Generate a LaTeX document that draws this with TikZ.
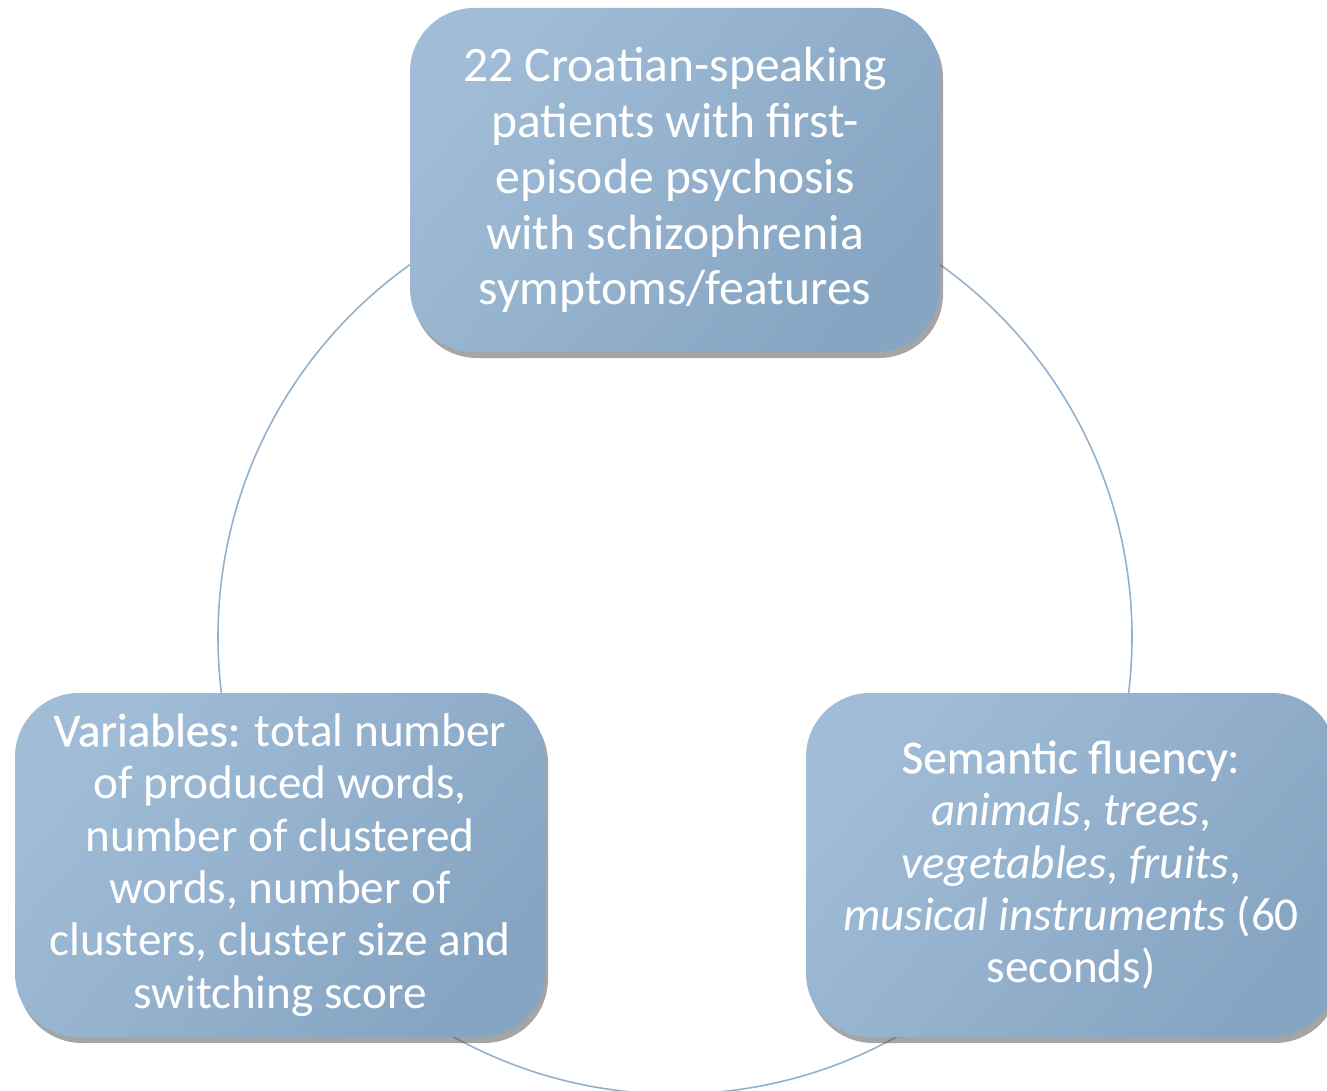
\documentclass[tikz,border=0pt]{standalone}
\usepackage{fontspec}
\setmainfont{Carlito}
\newfontface\strongface{Carlito}[FakeBold=0.6]
\usetikzlibrary{shadows}
\definecolor{boxlight}{HTML}{A0BCD7}
\definecolor{boxdark}{HTML}{86A5C2}
\definecolor{ringline}{HTML}{93B1CD}
\tikzset{
	stagebox/.style={rounded corners=32pt, minimum width=265pt, minimum height=172pt,
		left color=boxlight, right color=boxdark, shading angle=50,
		text=white, align=center, font=\fontsize{23.6}{26.2}\selectfont,
		drop shadow={shadow xshift=1.5pt, shadow yshift=-3pt, opacity=0.5, fill=black!70}},
	bigstage/.style={stagebox, font=\fontsize{24.8}{27.9}\selectfont},
	ring/.style={draw=ringline, line width=0.8pt},
}

\begin{document}
\begin{tikzpicture}[x=0.5pt, y=-0.5pt]
		%%%%% FRAME %%%%%
		\useasboundingbox (0, 0) rectangle (1327, 1091);
		\clip (0, 0) rectangle (1327, 1091);
		
		%%%%% RING %%%%%
		\coordinate (hub) at (675, 637);
		\draw[ring] (hub) circle [radius=228.5pt];
		
		%%%%% STAGES %%%%%
		\node[bigstage] (patients) at (675, 180) {22 Croatian-speaking\\patients with first-\\episode psychosis\\with schizophrenia\\symptoms/features};
		
		\node[stagebox] (variables) at (280, 865) {{\strongface Variables:} total number\\of produced words,\\number of clustered\\words, number of\\clusters, cluster size and\\switching score};
		
		\node[stagebox] (fluency) at (1071, 865) {{\strongface Semantic fluency}:\\\emph{animals}, \emph{trees},\\\emph{vegetables}, \emph{fruits},\\\emph{musical instruments} (60\\seconds)};
		
	\end{tikzpicture}
\end{document}
